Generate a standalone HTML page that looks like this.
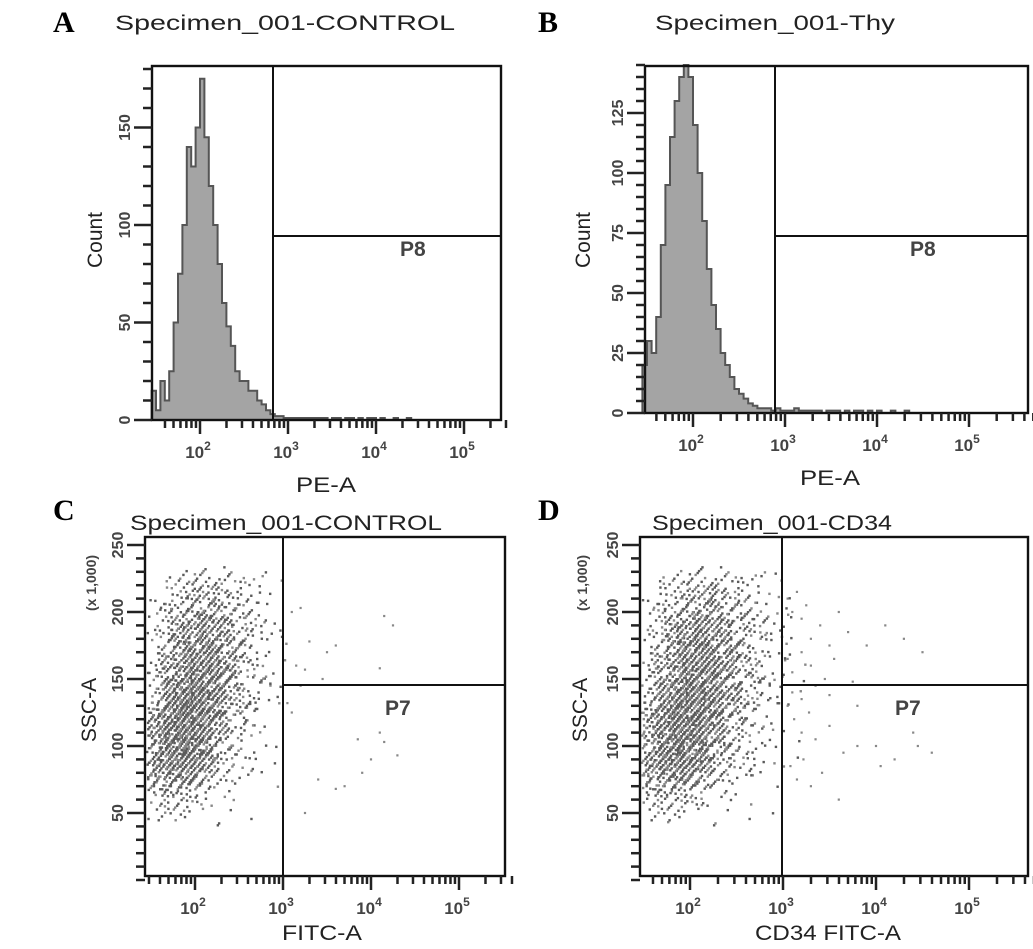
<!DOCTYPE html>
<html><head><meta charset="utf-8"><style>
html,body{margin:0;padding:0;background:#fff;}
svg{display:block;font-family:"Liberation Sans",Arial,sans-serif;}
</style></head><body>
<svg id="fig" width="1033" height="949" viewBox="0 0 1033 949"></svg>
<script>
// ---------- data ----------
const histBinStart = 1.45, histBinStep = 0.05;
const histA = [15,5,20,10,25,50,75,100,140,130,150,175,145,120,100,80,60,48,38,25,20,20,15,15,10,8,5,3,2,2,1,1,1,1,1,1,1,1,1,1,0,1,1,0,1,1,0,1,0,1,1,0,1,0,0,1,0,0,1,0,0,0,0,0,0,0,0,0];
const histB = [20,30,25,40,70,95,115,130,140,145,140,120,100,80,60,45,35,25,20,15,10,8,6,4,3,2,2,2,1,2,1,1,1,2,1,1,1,1,1,0,1,1,1,0,1,0,1,1,0,1,0,1,0,0,1,0,0,1,0,0,0,0,0,0,0,0,0,0];
const gridXStart = 1.4, gridXStep = 0.2, gridYStart = 50, gridYStep = 25;
// rows from y=50 upward
const densC = [
 [12,28,25,12,5,2,1,0],
 [60,120,115,70,25,8,4,2],
 [45,125,160,115,50,18,7,3],
 [20,80,140,140,80,28,12,4],
 [10,45,95,115,80,32,15,5],
 [6,28,60,80,60,28,15,5],
 [3,12,30,40,30,16,10,3]
];
const densD = [
 [15,30,28,18,8,4,2,1,0],
 [55,115,120,85,38,15,8,4,1],
 [35,105,155,135,70,30,12,6,2],
 [18,75,135,145,100,45,20,8,3],
 [10,42,95,120,90,48,22,10,3],
 [6,28,65,90,70,38,20,10,3],
 [3,14,30,42,38,22,12,6,2]
];
const outC_x = [3.1,3.2,3.3,3.5,3.6,3.15,3.25,3.45,3.2,4.15,4.25,4.1,3.05,3.1,4.1,4.15,3.85,4.0,4.3,3.9,3.7,3.6,3.4,3.25];
const outC_y = [200,203,178,170,175,160,157,150,145,197,190,158,132,125,110,103,105,90,93,80,70,68,75,50];
const outD_x = [3.05,3.1,3.15,3.2,3.25,3.3,3.4,3.5,3.6,3.05,3.1,3.2,3.3,3.45,3.55,3.7,3.9,4.1,4.3,4.5,3.05,3.12,3.2,3.28,3.35,3.5,3.65,3.8,4.0,4.2,4.4,4.6,3.08,3.15,3.22,3.3,3.42,3.6,3.8,4.05,4.45,3.1,3.2,3.35,3.5,3.75];
const outD_y = [210,200,215,195,205,180,190,175,200,165,155,170,160,150,165,185,175,190,180,170,130,120,110,125,105,115,95,130,100,90,110,95,85,75,90,70,80,60,100,85,100,140,135,145,138,148];
const yTicksA = [0,50,100,150];
const yTicksB = [0,25,50,75,100,125];
const yTicksC = [50,100,150,200,250];
const decades = [2,3,4,5];

// ---------- helpers ----------
const NS="http://www.w3.org/2000/svg";
const svg=document.getElementById('fig');
function mk(tag,attrs,parent){const e=document.createElementNS(NS,tag);for(const k in attrs)e.setAttribute(k,attrs[k]);(parent||svg).appendChild(e);return e;}

function panel(c){
  const g=mk('g',{});
  
  
  const sx=v=>c.x10p2+(v-2)*c.pxDec;
  const sy=v=>c.y0-(v-c.yMin)*c.pxUnit;
  const L=mk('text',{x:c.letterX,y:c.letterY,'font-family':'"Liberation Serif",serif','font-weight':'bold','font-size':30},g);
  L.textContent=c.letter;
  
  
  const T=mk('text',{x:c.titleX,y:c.titleY,'font-size':21,fill:'#222',textLength:c.titleW,lengthAdjust:'spacingAndGlyphs'},g);
  T.textContent=c.title;
  
  
  const marks=mk('g',{},g);
  
  
  if(c.hist){
    let d='M'+sx(histBinStart)+','+sy(0);
    c.hist.forEach((v,i)=>{const x0=sx(histBinStart+i*histBinStep),x1=sx(histBinStart+(i+1)*histBinStep);
      if(x0>c.right) return; d+=' L'+x0+','+sy(v)+' L'+Math.min(x1,c.right)+','+sy(v);});
    d+=' L'+c.right+','+sy(0)+' Z';
    const p=mk('path',{d:d,fill:'#a4a4a4',stroke:'#555','stroke-width':2},marks);
    
    
  }
  if(c.dens){
    let k=0;
    c.dens.forEach((row,j)=>row.forEach((n,i)=>{
      for(let m=0;m<n;m++){k++;
        const q=m+1+i*37+j*101;
        const a1=(q*0.7548777)%1, a2=(q*0.4142136)%1;
        const b1=(q*0.5698403)%1, b2=(q*0.7320508)%1;
        const ox=(a1+a2-1), oy=(b1+b2-1); // triangular, +-1 cell
        const lx=gridXStart+(i+0.5+ox)*gridXStep, ly=gridYStart+(j+0.5+oy)*gridYStep;
        const px=sx(lx), py=sy(ly);
        if(px<c.left+2||py>c.bottom-2) continue;
        const dot=mk('rect',{x:px-1.2,y:py-1.2,width:2.4,height:2.4,fill:(k%3?'#5a5a5a':'#888')},marks);
        
        
      }}));
    c.outX.forEach((v,i)=>{
      const dot=mk('rect',{x:sx(v)-1.1,y:sy(c.outY[i])-1.1,width:2.2,height:2.2,fill:'#888'},marks);
      
      
    });
  }
  const bx=mk('rect',{x:c.left,y:c.top,width:c.right-c.left,height:c.bottom-c.top,fill:'none',stroke:'#111','stroke-width':2.4},g);
  
  
  const gv=mk('line',{x1:c.gateX,y1:c.top,x2:c.gateX,y2:c.bottom,stroke:'#111','stroke-width':2},g);
  
  
  const gh=mk('line',{x1:c.gateX,y1:c.gateY,x2:c.right,y2:c.gateY,stroke:'#111','stroke-width':2},g);
  
  
  const gl=mk('text',{x:c.gateLabelX,y:c.gateLabelY,'font-size':21,'font-weight':'bold',fill:'#444'},g);
  gl.textContent=c.gateLabel;
  
  
  const ya=mk('g',{stroke:'#222','stroke-width':2.5},g);
  
  
  const ystep=(c.yTicks[1]-c.yTicks[0])/5;
  for(let v=c.yMin;sy(v)>=c.top-1;v+=ystep){
    const major=c.yTicks.some(t=>Math.abs(t-v)<1e-6);
    mk('line',{x1:c.left-(major?18:9),y1:sy(v),x2:c.left,y2:sy(v)},ya);
  }
  c.yTicks.forEach(t=>{
    const tx=mk('text',{x:0,y:0,'font-size':16,'font-weight':'bold',fill:'#444',stroke:'none','text-anchor':'middle',transform:`translate(${c.left-22},${sy(t)}) rotate(-90)`},g);
    tx.textContent=t;
    
    
  });
  const xa=mk('g',{stroke:'#222','stroke-width':2.5},g);
  
  
  for(let d=1;d<=5;d++)for(let m=1;m<10;m++){
    const lv=d+Math.log10(m), x=sx(lv);
    if(x<c.left+3||x>c.right+8) continue;
    mk('line',{x1:x,y1:c.bottom,x2:x,y2:c.bottom+(m===1?14:8)},xa);
  }
  decades.forEach(d=>{
    const tx=mk('text',{x:sx(d)-2,y:c.bottom+38,'font-size':17,'font-weight':'bold',fill:'#444','text-anchor':'middle'},g);
    tx.innerHTML='10<tspan dy="-8" font-size="12">'+d+'</tspan>';
    
    
  });
  const xt=mk('text',{x:c.xTitleX,y:c.xTitleY,'font-size':21,fill:'#222','text-anchor':'middle',textLength:c.xTitleW,lengthAdjust:'spacingAndGlyphs'},g);
  xt.textContent=c.xTitle;
  
  
  const yt=mk('text',{x:0,y:0,'font-size':21,fill:'#222','text-anchor':'middle',transform:`translate(${c.yTitleX},${c.yTitleY}) rotate(-90)`},g);
  yt.textContent=c.yTitle;
  
  
  if(c.unit){
    const ut=mk('text',{x:0,y:0,'font-size':14,'font-weight':'bold',fill:'#444','text-anchor':'middle',transform:`translate(${c.yTitleX},${c.unitY}) rotate(-90)`},g);
    ut.textContent='(x 1,000)';
    
    
  }
}

panel({name:'panel-a',letter:'A',letterX:53,letterY:32,title:'Specimen_001-CONTROL',titleX:115,titleY:30,titleW:340,
  left:152,right:501,top:66,bottom:420,x10p2:200,pxDec:88,y0:420,yMin:0,pxUnit:1.95,
  gateX:273,gateY:236,gateLabel:'P8',gateLabelX:400,gateLabelY:256,hist:histA,yTicks:yTicksA,
  xTitle:'PE-A',xTitleX:326,xTitleY:492,xTitleW:60,yTitle:'Count',yTitleX:102,yTitleY:240});
panel({name:'panel-b',letter:'B',letterX:538,letterY:32,title:'Specimen_001-Thy',titleX:655,titleY:30,titleW:240,
  left:645,right:1028,top:66,bottom:413,x10p2:693,pxDec:92,y0:413,yMin:0,pxUnit:2.4,
  gateX:775,gateY:236,gateLabel:'P8',gateLabelX:910,gateLabelY:256,hist:histB,yTicks:yTicksB,
  xTitle:'PE-A',xTitleX:830,xTitleY:485,xTitleW:60,yTitle:'Count',yTitleX:590,yTitleY:240});
panel({name:'panel-c',letter:'C',letterX:53,letterY:520,title:'Specimen_001-CONTROL',titleX:130,titleY:530,titleW:312,
  left:145,right:505,top:537,bottom:876,x10p2:195,pxDec:88,y0:880,yMin:0,pxUnit:1.34,
  gateX:283,gateY:685,gateLabel:'P7',gateLabelX:385,gateLabelY:715,dens:densC,outX:outC_x,outY:outC_y,yTicks:yTicksC,
  xTitle:'FITC-A',xTitleX:322,xTitleY:940,xTitleW:80,yTitle:'SSC-A',yTitleX:96,yTitleY:710,unit:true,unitY:583});
panel({name:'panel-d',letter:'D',letterX:538,letterY:520,title:'Specimen_001-CD34',titleX:652,titleY:530,titleW:240,
  left:640,right:1028,top:537,bottom:876,x10p2:690,pxDec:93,y0:880,yMin:0,pxUnit:1.34,
  gateX:782,gateY:685,gateLabel:'P7',gateLabelX:895,gateLabelY:715,dens:densD,outX:outD_x,outY:outD_y,yTicks:yTicksC,
  xTitle:'CD34 FITC-A',xTitleX:828,xTitleY:940,xTitleW:146,yTitle:'SSC-A',yTitleX:587,yTitleY:710,unit:true,unitY:583});
</script>
</body></html>
